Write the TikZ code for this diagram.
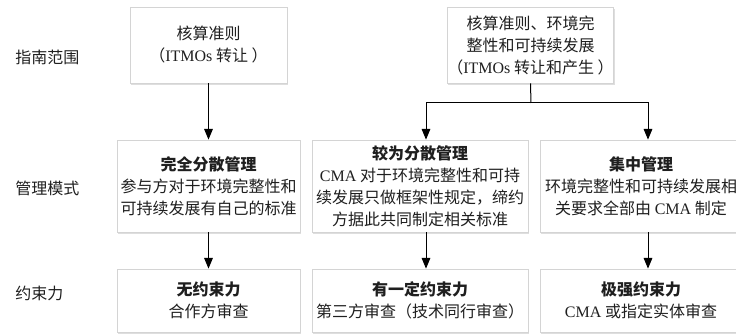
\documentclass[tikz,border=0pt]{standalone}
\usepackage{fontspec}
\setmainfont{Liberation Serif}
\newfontfamily\cjk{Noto Sans CJK SC}
\newfontfamily\lat{Liberation Serif}
\usetikzlibrary{arrows.meta,shadows}
\begin{document}
\begin{tikzpicture}[x=0.75pt,y=-0.75pt,
  box/.style={draw=black!17, fill=white, line width=0.6pt,
    drop shadow={shadow xshift=0.7pt, shadow yshift=-1.3pt, fill=black, opacity=0.13},
    align=center, inner sep=0pt, text=black!88,
    font=\cjk\fontsize{12pt}{16.5pt}\selectfont},
  wbox/.style={box, minimum width=162pt},
  rbox/.style={box, minimum width=151.5pt},
  nbox/.style={box, minimum width=137.25pt},
  mid/.style={minimum height=69pt},
  low/.style={minimum height=47.25pt},
  lab/.style={anchor=west, inner sep=0pt, text=black!88, font=\cjk\fontsize{12pt}{14pt}\selectfont},
  arr/.style={line width=0.75pt, -{Triangle[width=6.5pt,length=8pt]}}
]
\useasboundingbox (0,0) rectangle (736,335);

% left labels
\node[lab] (l1) at (15,57) {指南范围};
\node[lab] (l2) at (15,188) {管理模式};
\node[lab] (l3) at (15,293) {约束力};

% top row
\node[box, minimum width=117.75pt, minimum height=57pt] (A) at (208.5,45)
  {核算准则\\（{\lat ITMOs} 转让 ）};
\node[box, minimum width=116.25pt, minimum height=57pt] (B) at (530.5,45)
  {核算准则、环境完\\整性和可持续发展\\（{\lat ITMOs} 转让和产生 ）};

% middle row
\node[nbox, mid] (m1) at (208.5,186)
  {\textbf{完全分散管理}\\参与方对于环境完整性和\\可持续发展有自己的标准};
\node[wbox, mid] (m2) at (420,186)
  {\textbf{较为分散管理}\\{\lat CMA} 对于环境完整性和可持\\续发展只做框架性规定，缔约\\方据此共同制定相关标准};
\node[rbox, mid] (m3) at (641,186)
  {\textbf{集中管理}\\环境完整性和可持续发展相\\关要求全部由 {\lat CMA} 制定};

% bottom row
\node[nbox, low] (b1) at (208.5,300.5)
  {\textbf{无约束力}\\合作方审查};
\node[wbox, low] (b2) at (420,300.5)
  {\textbf{有一定约束力}\\第三方审查（技术同行审查）};
\node[rbox, low] (b3) at (641,300.5)
  {\textbf{极强约束力}\\{\lat CMA} 或指定实体审查};

% connectors
\coordinate (fork) at (531,103);
\draw[arr] (A.south) -- (m1.north);
\draw[line width=0.75pt] (B.south) -- (fork);
\draw[arr] (fork) -| ([xshift=4.5pt]m2.north);
\draw[arr] (fork) -| ([xshift=5.25pt]m3.north);
\draw[arr] (m1.south) -- (b1.north);
\draw[arr] ([xshift=4.5pt]m2.south) -- ([xshift=4.5pt]b2.north);
\draw[arr] ([xshift=5.25pt]m3.south) -- ([xshift=5.25pt]b3.north);
\end{tikzpicture}
\end{document}
